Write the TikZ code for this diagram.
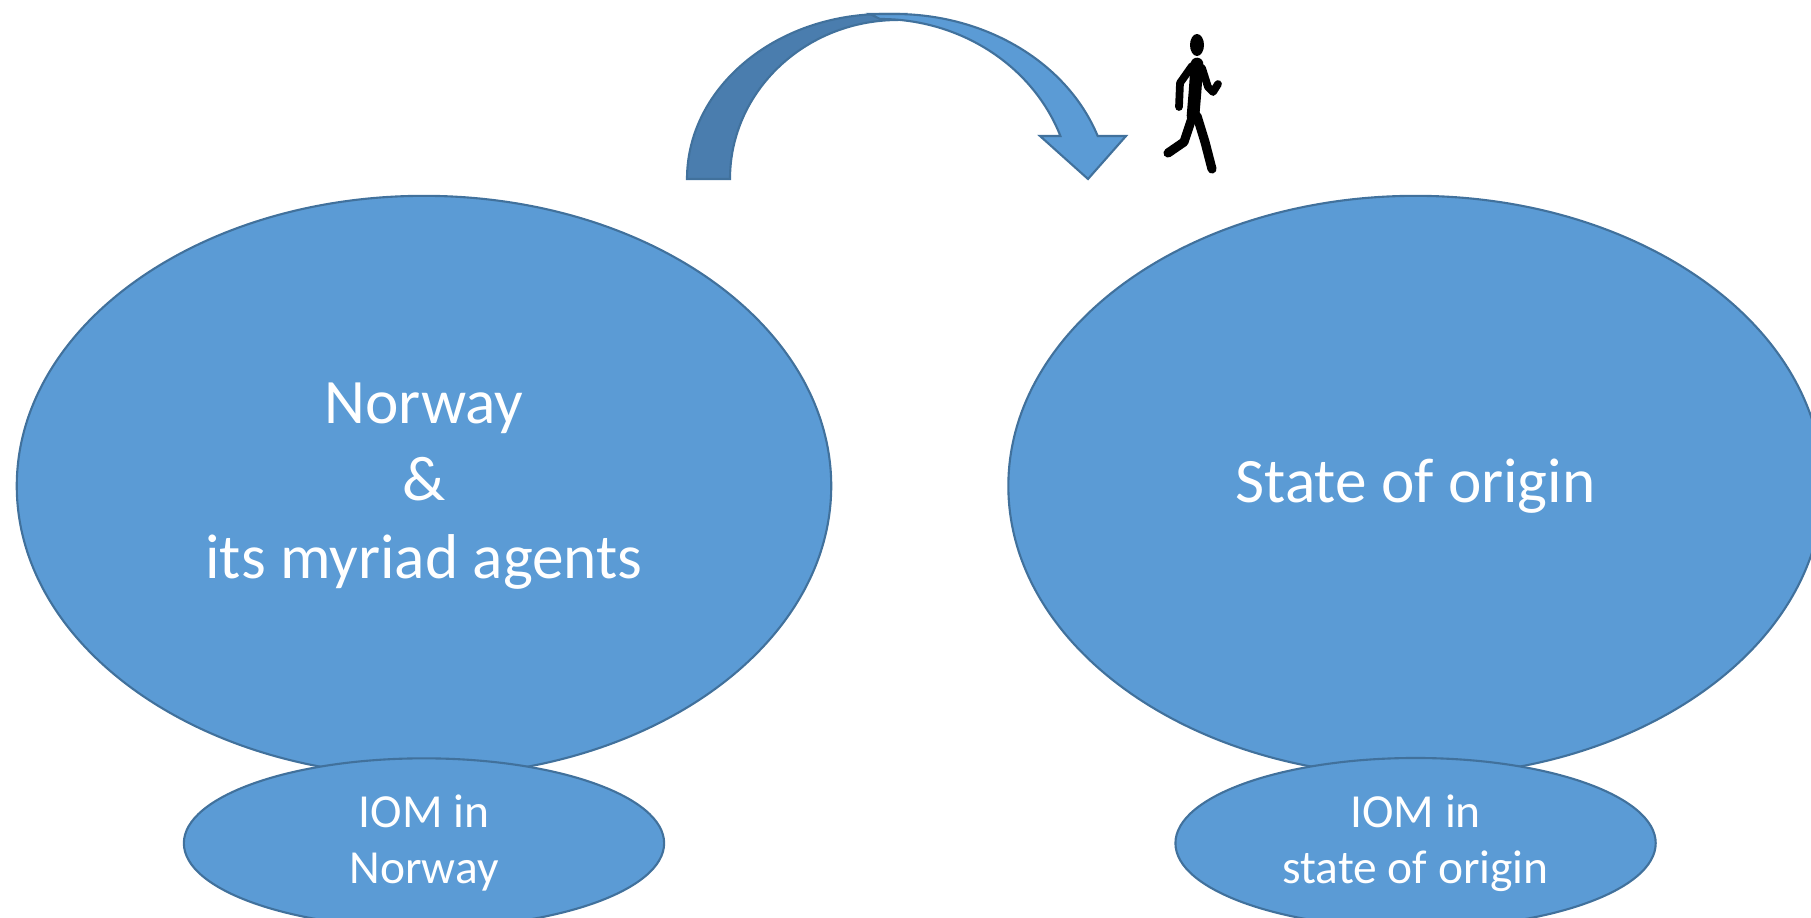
\documentclass[tikz,border=0pt]{standalone}
\usepackage{fontspec}
\setsansfont{Carlito}
\usetikzlibrary{shapes.geometric}
\definecolor{officeblue}{HTML}{5B9BD5}
\definecolor{officeline}{HTML}{41719C}
\definecolor{arrowback}{HTML}{4A7DAE}

\begin{document}
\begin{tikzpicture}[x=0.01cm, y=0.01cm, node distance=9.91cm,
	big node/.style={ellipse, draw=officeline, fill=officeblue, line width=0.6pt, minimum width=8.14cm, minimum height=5.8cm, align=center, text=white, font=\sffamily\fontsize{18}{22}\selectfont},
	small node/.style={ellipse, draw=officeline, fill=officeblue, line width=0.6pt, minimum width=4.8cm, minimum height=1.52cm, align=center, text=white, font=\sffamily\fontsize{13.5}{16}\selectfont},
	limb/.style={line width=2.2pt, line cap=round, line join=round}]
	\clip (0,0) rectangle (1811,917);
	\node[big node] (norway) at (424,431) {Norway\\ \&\\ its myriad agents};
	\node[big node] (origin) [right of=norway] {State of origin};
	\node[small node] (iomnorway) [node distance=3.57cm, below of=norway] {IOM in\\ Norway};
	\node[small node] (iomorigin) [node distance=3.57cm, below of=origin] {IOM in\\ state of origin};
	% curved arrow
	\filldraw[fill=arrowback, draw=officeline, line width=0.6pt] (687,738) arc[start angle=180, end angle=90, x radius=197, y radius=165] -- (905,903) -- (898,897) arc[start angle=90, end angle=180, x radius=168, y radius=159] -- cycle;
	\filldraw[fill=officeblue, draw=officeline, line width=0.6pt] (870,903) -- (895,903) arc[start angle=90, end angle=19.47, x radius=215, y radius=183] -- (1126,781) -- (1088,738) -- (1040,781) -- (1060.4,781) arc[start angle=20.04, end angle=90, x radius=192, y radius=178] -- cycle;
	% walking man
	\fill (1197,872) ellipse[x radius=7, y radius=11];
	\draw[line width=3.6pt, line cap=round, line join=round] (1197,853) -- (1195,825) -- (1193,801);
	\draw[limb] (1192,851) -- (1180,834) -- (1179,810);
	\draw[limb] (1202,849) -- (1208,830) -- (1213,825) -- (1218,833);
	\draw[line width=2.6pt, line cap=round, line join=round] (1192,799) -- (1184,775) -- (1168,764);
	\draw[line width=2.6pt, line cap=round, line join=round] (1197,801) -- (1205,775) -- (1212,748);
\end{tikzpicture}
\end{document}
